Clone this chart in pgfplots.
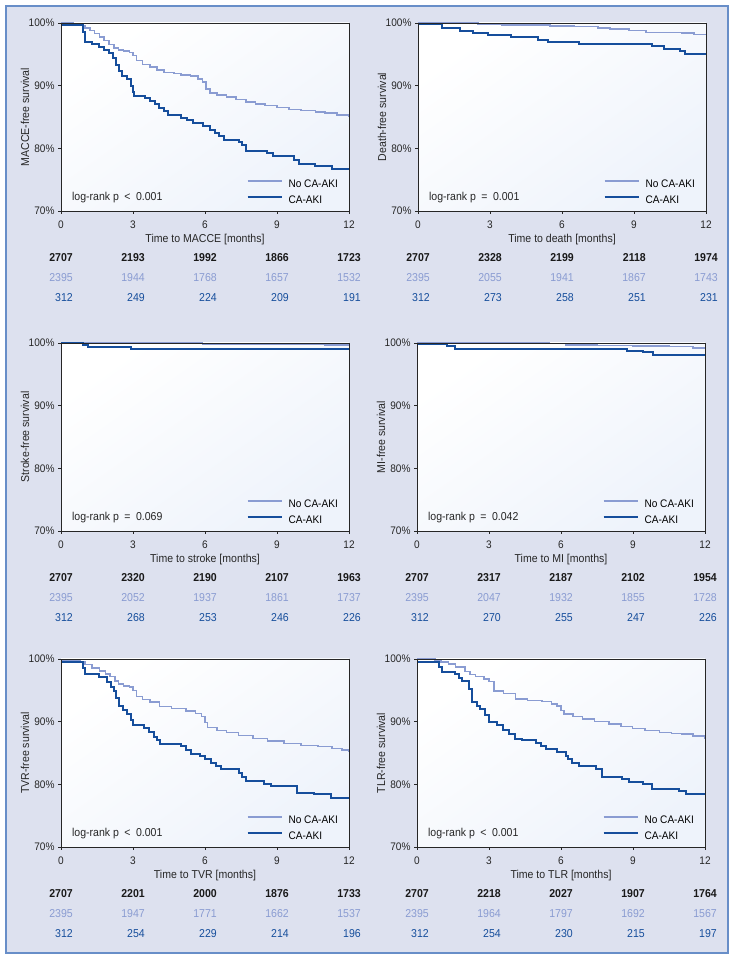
\documentclass[border=0pt]{standalone}
\usepackage{fontspec}
\setmainfont{Liberation Sans}[FakeStretch=0.92]
\usepackage{pgfplots}
\pgfplotsset{compat=1.18}

\definecolor{frameBg}{RGB}{221,225,239}
\definecolor{frameLine}{RGB}{104,142,200}
\definecolor{noAki}{RGB}{138,156,210}
\definecolor{aki}{RGB}{22,78,156}
\definecolor{palebg}{RGB}{238,243,251}

\newcommand{\fsz}{\fontsize{11.5}{13}\selectfont}

\pgfplotsset{
  km/.style={
    width=288bp, height=188bp, scale only axis,
    xmin=0, xmax=12, ymin=70, ymax=100,
    xtick={0,3,6,9,12}, ytick={70,80,90,100},
    yticklabel={\pgfmathprintnumber{\tick}\%},
    /pgf/number format/assume math mode=true,
    tick align=outside, tick pos=left,
    major tick length=3bp,
    axis on top,
    axis line style={black!85, line width=0.6bp},
    every tick/.style={black!85, line width=0.6bp},
    tick label style={font=\fontsize{11}{12}\selectfont, black!85},
    xticklabel style={yshift=-3.5bp},
    label style={font=\fsz, black!85},
    xlabel style={at={(axis description cs:0.5,-0.152)}, anchor=center},
    ylabel style={at={(axis description cs:-0.125,0.5)}, anchor=center, rotate=0},
    axis background/.style={shade, shading=axis, top color=white, bottom color=palebg, shading angle=35},
    legend style={at={(axis description cs:0.962,0.027)}, anchor=south east,
      draw=none, fill=none, inner sep=0bp, font=\fontsize{11}{12}\selectfont,
      row sep=6bp, column sep=6bp,
      nodes={inner sep=0bp, text height=8bp, text depth=2bp}},
    legend cell align=left,
    legend image code/.code={\draw[##1] (0bp,3.5bp) -- (34bp,3.5bp);},
  },
  lightline/.style={const plot, noAki, line width=1.5bp, no marks},
  darkline/.style={const plot, aki, line width=2bp, no marks},
}

\newcommand{\logrank}[2]{\node[anchor=west, inner sep=0pt, font=\fsz, black!85] at (axis description cs:0.038,0.07) {log-rank p\hspace{2.5bp} #1\hspace{2.5bp} #2};}

% risk table below one panel: left x of axis, y of axis bottom, three lists
\newcommand{\risk}[5]{%
  \foreach \v [count=\i from 0] in {#3}
    {\node[anchor=base east, inner sep=0pt, font=\bfseries\fsz, black!90] at ({#1+72*\i+12},{#2-51}) {\v};}
  \foreach \v [count=\i from 0] in {#4}
    {\node[anchor=base east, inner sep=0pt, font=\fsz, noAki] at ({#1+72*\i+12},{#2-71}) {\v};}
  \foreach \v [count=\i from 0] in {#5}
    {\node[anchor=base east, inner sep=0pt, font=\fsz, aki] at ({#1+72*\i+12},{#2-91}) {\v};}
}

\begin{document}
\begin{tikzpicture}[x=1bp, y=1bp]
\useasboundingbox (0,0) rectangle (735,962);
\fill[white] (0,0) rectangle (735,962);
\filldraw[fill=frameBg, draw=frameLine, line width=1.2bp] (6,9) rectangle (728,956);

% ---------- MACCE ----------
\begin{axis}[km, at={(61bp,751bp)}, anchor=south west,
  xlabel={Time to MACCE [months]}, ylabel={MACCE-free survival}]
\addplot[lightline] coordinates {
(0,100)(0.5,99.9)(0.8,99.6)(1.0,99.2)(1.2,98.8)(1.4,98.3)(1.6,97.8)(1.8,97.2)(2.0,96.6)(2.2,96.0)
(2.4,95.7)(2.6,95.5)(2.85,95.3)(3.0,94.8)(3.15,94.0)(3.4,93.4)(3.7,93.0)(4.0,92.5)(4.3,92.1)(4.7,91.9)
(5.0,91.7)(5.4,91.5)(5.7,91.1)(5.9,90.6)(6.05,89.5)(6.2,88.8)(6.5,88.5)(6.9,88.2)(7.3,87.8)(7.7,87.4)
(8.1,87.1)(8.5,86.8)(9.0,86.5)(9.5,86.2)(10.0,86.0)(10.6,85.8)(11.0,85.6)(11.5,85.3)(12,85.0)};
\addlegendentry{No CA-AKI}
\addplot[darkline] coordinates {
(0,99.6)(0.9,98.5)(1.0,97.0)(1.3,96.7)(1.6,96.2)(1.8,95.7)(2.0,95.2)(2.15,94.4)(2.3,93.3)(2.4,92.3)
(2.55,91.5)(2.75,91.0)(2.9,90.0)(3.0,89.0)(3.05,88.3)(3.5,88.0)(3.7,87.5)(3.9,87.0)(4.1,86.4)(4.3,85.9)
(4.45,85.3)(5.0,84.9)(5.25,84.5)(5.5,84.0)(5.9,83.5)(6.2,83.0)(6.4,82.5)(6.6,82.0)(6.8,81.3)(7.4,81.0)
(7.55,80.5)(7.7,79.5)(8.6,79.2)(8.85,78.7)(9.7,78.2)(9.9,77.5)(10.6,77.1)(11.3,76.7)(12,76.7)};
\addlegendentry{CA-AKI}
\logrank{<}{0.001}
\end{axis}
\risk{61}{751}{2707,2193,1992,1866,1723}{2395,1944,1768,1657,1532}{312,249,224,209,191}

% ---------- Death ----------
\begin{axis}[km, at={(418bp,751bp)}, anchor=south west,
  xlabel={Time to death [months]}, ylabel={Death-free survival}]
\addplot[lightline] coordinates {
(0,100)(2.5,99.8)(3.5,99.7)(5.5,99.5)(6.5,99.4)(7.5,99.2)(8.0,99.0)(8.8,98.8)(9.5,98.5)(11.0,98.4)(11.5,98.2)(12,98.1)};
\addlegendentry{No CA-AKI}
\addplot[darkline] coordinates {
(0,99.8)(1.0,99.2)(1.73,98.8)(2.28,98.4)(2.93,98.1)(3.88,97.7)(5.02,97.3)(5.4,97.0)(6.71,96.6)
(9.76,96.3)(10.24,95.8)(10.93,95.5)(11.14,95.1)(12,95.1)};
\addlegendentry{CA-AKI}
\logrank{=}{0.001}
\end{axis}
\risk{418}{751}{2707,2328,2199,2118,1974}{2395,2055,1941,1867,1743}{312,273,258,251,231}

% ---------- Stroke ----------
\begin{axis}[km, at={(61bp,431bp)}, anchor=south west,
  xlabel={Time to stroke [months]}, ylabel={Stroke-free survival}]
\addplot[lightline] coordinates {
(0,100)(5.9,99.85)(9,99.75)(11,99.7)(12,99.7)};
\addlegendentry{No CA-AKI}
\addplot[darkline] coordinates {
(0,100)(0.93,99.6)(1.14,99.4)(2.9,99.05)(12,99.05)};
\addlegendentry{CA-AKI}
\logrank{=}{0.069}
\end{axis}
\risk{61}{431}{2707,2320,2190,2107,1963}{2395,2052,1937,1861,1737}{312,268,253,246,226}

% ---------- MI ----------
\begin{axis}[km, at={(417bp,431bp)}, anchor=south west,
  xlabel={Time to MI [months]}, ylabel={MI-free survival}]
\addplot[lightline] coordinates {
(0,100)(5.5,99.9)(6.2,99.7)(7.5,99.6)(9.0,99.5)(10.5,99.4)(11.5,99.2)(12,99.1)};
\addlegendentry{No CA-AKI}
\addplot[darkline] coordinates {
(0,99.8)(1.25,99.5)(1.6,99.1)(8.73,98.8)(9.42,98.5)(9.83,98.1)(12,98.1)};
\addlegendentry{CA-AKI}
\logrank{=}{0.042}
\end{axis}
\risk{417}{431}{2707,2317,2187,2102,1954}{2395,2047,1932,1855,1728}{312,270,255,247,226}

% ---------- TVR ----------
\begin{axis}[km, at={(61bp,115bp)}, anchor=south west,
  xlabel={Time to TVR [months]}, ylabel={TVR-free survival}]
\addplot[lightline] coordinates {
(0,99.7)(0.8,99.5)(1.0,99.1)(1.3,98.6)(1.6,98.1)(1.85,97.6)(2.05,97.2)(2.25,96.5)(2.4,96.0)(2.6,95.7)
(2.85,95.5)(3.0,95.0)(3.15,94.0)(3.4,93.5)(3.7,93.1)(4.1,92.4)(4.6,92.1)(5.2,91.7)(5.6,91.3)(5.85,90.8)
(6.0,89.9)(6.1,89.1)(6.5,88.6)(6.9,88.3)(7.4,87.8)(8.0,87.3)(8.6,86.9)(9.3,86.5)(10.0,86.2)(10.7,86.0)
(11.3,85.7)(11.7,85.5)(12,85.2)};
\addlegendentry{No CA-AKI}
\addplot[darkline] coordinates {
(0,99.6)(0.9,98.5)(1.0,97.6)(1.6,97.1)(1.9,96.3)(2.1,95.5)(2.2,94.9)(2.3,93.8)(2.4,92.5)(2.6,91.8)
(2.75,91.2)(2.9,90.3)(3.02,89.4)(3.44,89.0)(3.65,88.3)(3.86,87.5)(4.0,87.0)(4.14,86.4)(5.0,86.1)(5.2,85.5)
(5.4,84.9)(5.8,84.5)(6.0,84.0)(6.23,83.4)(6.45,82.9)(6.65,82.4)(7.4,81.8)(7.55,81.2)(7.69,80.5)(8.45,80.1)
(8.73,79.7)(9.85,78.6)(10.55,78.4)(11.25,77.8)(12,77.8)};
\addlegendentry{CA-AKI}
\logrank{<}{0.001}
\end{axis}
\risk{61}{115}{2707,2201,2000,1876,1733}{2395,1947,1771,1662,1537}{312,254,229,214,196}

% ---------- TLR ----------
\begin{axis}[km, at={(417bp,115bp)}, anchor=south west,
  xlabel={Time to TLR [months]}, ylabel={TLR-free survival}]
\addplot[lightline] coordinates {
(0,100)(0.76,99.8)(1.0,99.5)(1.32,99.2)(1.6,98.7)(2.0,98.0)(2.2,97.5)(2.43,97.2)(2.8,96.8)(3.0,96.4)
(3.2,94.9)(3.6,94.5)(4.1,93.6)(4.6,93.4)(5.2,93.2)(5.6,92.8)(5.84,92.5)(6.0,91.8)(6.12,91.2)(6.5,90.8)
(6.9,90.4)(7.4,90.0)(8.0,89.6)(8.5,89.2)(8.97,88.9)(9.5,88.6)(10.1,88.3)(10.6,88.1)(11.05,88.0)(11.5,87.7)(12,87.3)};
\addlegendentry{No CA-AKI}
\addplot[darkline] coordinates {
(0,99.6)(0.9,98.8)(1.04,97.9)(1.6,97.6)(1.75,97.0)(1.88,96.5)(2.16,95.2)(2.3,93.1)(2.5,92.5)(2.64,92.0)
(2.85,91.0)(3.0,89.9)(3.34,89.4)(3.6,88.7)(3.83,88.0)(4.1,87.2)(4.38,87.0)(4.94,86.6)(5.15,86.1)(5.36,85.6)
(5.84,85.1)(6.19,84.5)(6.3,84.0)(6.47,83.4)(6.75,82.9)(7.44,82.4)(7.72,81.2)(8.55,80.8)(8.83,80.4)(9.4,80.0)
(9.8,79.2)(10.9,78.9)(11.2,78.4)(12,78.4)};
\addlegendentry{CA-AKI}
\logrank{<}{0.001}
\end{axis}
\risk{417}{115}{2707,2218,2027,1907,1764}{2395,1964,1797,1692,1567}{312,254,230,215,197}
\end{tikzpicture}
\end{document}
